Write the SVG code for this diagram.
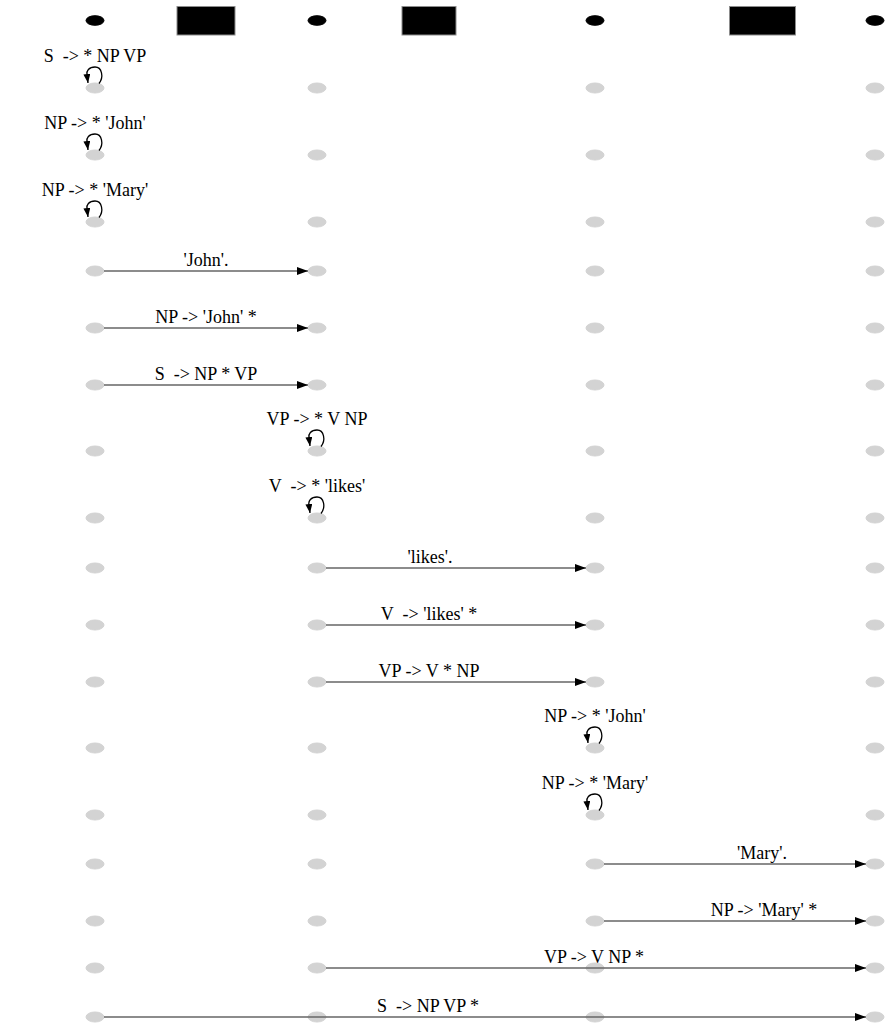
<svg xmlns="http://www.w3.org/2000/svg" width="894" height="1036" viewBox="0 0 894 1036">
<style>
text{font-family:"Liberation Serif","Times New Roman",serif;font-size:18px;fill:#000;text-anchor:middle;white-space:pre}
.g{fill:#d3d3d3;stroke:#d3d3d3}
.k{fill:#000;stroke:#000}
.box{fill:#000;stroke:#8c8c8c;stroke-width:1}
.e{fill:none;stroke:#666;stroke-width:1.5}
.l{fill:none;stroke:#000;stroke-width:1.3}
</style>
<defs>
<marker id="ah" markerUnits="userSpaceOnUse" markerWidth="13" markerHeight="10" refX="11" refY="4" orient="auto">
<path d="M0,0 L11,4 L0,8 z" fill="#000"/>
</marker>
<marker id="lh" markerUnits="userSpaceOnUse" markerWidth="11" markerHeight="9" refX="9" refY="3.5" orient="auto">
<path d="M0,0 L9,3.5 L0,7 z" fill="#000"/>
</marker>
<ellipse id="gn" class="g" rx="9" ry="5"/>
</defs>
<g id="header">
<ellipse class="k" cx="95" cy="20.5" rx="9" ry="4.8"/>
<ellipse class="k" cx="317" cy="20.5" rx="9" ry="4.8"/>
<ellipse class="k" cx="595" cy="20.5" rx="9" ry="4.8"/>
<ellipse class="k" cx="875" cy="20.5" rx="9" ry="4.8"/>
<rect class="box" x="177" y="6.5" width="58" height="28.5"/>
<rect class="box" x="402" y="6.5" width="54" height="28.5"/>
<rect class="box" x="729.5" y="6.5" width="66" height="28.5"/>
</g>
<g id="nodes">
<g id="r1"><use href="#gn" x="95" y="88"/><use href="#gn" x="317" y="88"/><use href="#gn" x="595" y="88"/><use href="#gn" x="875" y="88"/></g>
<g id="r2"><use href="#gn" x="95" y="155"/><use href="#gn" x="317" y="155"/><use href="#gn" x="595" y="155"/><use href="#gn" x="875" y="155"/></g>
<g id="r3"><use href="#gn" x="95" y="222"/><use href="#gn" x="317" y="222"/><use href="#gn" x="595" y="222"/><use href="#gn" x="875" y="222"/></g>
<g id="r4"><use href="#gn" x="95" y="271"/><use href="#gn" x="317" y="271"/><use href="#gn" x="595" y="271"/><use href="#gn" x="875" y="271"/></g>
<g id="r5"><use href="#gn" x="95" y="328"/><use href="#gn" x="317" y="328"/><use href="#gn" x="595" y="328"/><use href="#gn" x="875" y="328"/></g>
<g id="r6"><use href="#gn" x="95" y="385"/><use href="#gn" x="317" y="385"/><use href="#gn" x="595" y="385"/><use href="#gn" x="875" y="385"/></g>
<g id="r7"><use href="#gn" x="95" y="451"/><use href="#gn" x="317" y="451"/><use href="#gn" x="595" y="451"/><use href="#gn" x="875" y="451"/></g>
<g id="r8"><use href="#gn" x="95" y="518"/><use href="#gn" x="317" y="518"/><use href="#gn" x="595" y="518"/><use href="#gn" x="875" y="518"/></g>
<g id="r9"><use href="#gn" x="95" y="568"/><use href="#gn" x="317" y="568"/><use href="#gn" x="595" y="568"/><use href="#gn" x="875" y="568"/></g>
<g id="r10"><use href="#gn" x="95" y="625"/><use href="#gn" x="317" y="625"/><use href="#gn" x="595" y="625"/><use href="#gn" x="875" y="625"/></g>
<g id="r11"><use href="#gn" x="95" y="682"/><use href="#gn" x="317" y="682"/><use href="#gn" x="595" y="682"/><use href="#gn" x="875" y="682"/></g>
<g id="r12"><use href="#gn" x="95" y="748"/><use href="#gn" x="317" y="748"/><use href="#gn" x="595" y="748"/><use href="#gn" x="875" y="748"/></g>
<g id="r13"><use href="#gn" x="95" y="815"/><use href="#gn" x="317" y="815"/><use href="#gn" x="595" y="815"/><use href="#gn" x="875" y="815"/></g>
<g id="r14"><use href="#gn" x="95" y="864"/><use href="#gn" x="317" y="864"/><use href="#gn" x="595" y="864"/><use href="#gn" x="875" y="864"/></g>
<g id="r15"><use href="#gn" x="95" y="921"/><use href="#gn" x="317" y="921"/><use href="#gn" x="595" y="921"/><use href="#gn" x="875" y="921"/></g>
<g id="r16"><use href="#gn" x="95" y="968"/><use href="#gn" x="317" y="968"/><use href="#gn" x="595" y="968"/><use href="#gn" x="875" y="968"/></g>
<g id="r17"><use href="#gn" x="95" y="1017"/><use href="#gn" x="317" y="1017"/><use href="#gn" x="595" y="1017"/><use href="#gn" x="875" y="1017"/></g>
</g>
<g id="connectors">
<path class="l" marker-end="url(#lh)" d="M99,83.5 C104,77 102,67 95,67 C89,67 86,71 87,75 L88,83"/>
<path class="l" marker-end="url(#lh)" d="M99,150.5 C104,144 102,134 95,134 C89,134 86,138 87,142 L88,150"/>
<path class="l" marker-end="url(#lh)" d="M99,217.5 C104,211 102,201 95,201 C89,201 86,205 87,209 L88,217"/>
<path class="l" marker-end="url(#lh)" d="M321,446.5 C326,440 324,430 317,430 C311,430 308,434 309,438 L310,446"/>
<path class="l" marker-end="url(#lh)" d="M321,513.5 C326,507 324,497 317,497 C311,497 308,501 309,505 L310,513"/>
<path class="l" marker-end="url(#lh)" d="M599,743.5 C604,737 602,727 595,727 C589,727 586,731 587,735 L588,743"/>
<path class="l" marker-end="url(#lh)" d="M599,810.5 C604,804 602,794 595,794 C589,794 586,798 587,802 L588,810"/>
<line class="e" marker-end="url(#ah)" x1="104" y1="271" x2="308" y2="271"/>
<line class="e" marker-end="url(#ah)" x1="104" y1="328" x2="308" y2="328"/>
<line class="e" marker-end="url(#ah)" x1="104" y1="385" x2="308" y2="385"/>
<line class="e" marker-end="url(#ah)" x1="326" y1="568" x2="586" y2="568"/>
<line class="e" marker-end="url(#ah)" x1="326" y1="625" x2="586" y2="625"/>
<line class="e" marker-end="url(#ah)" x1="326" y1="682" x2="586" y2="682"/>
<line class="e" marker-end="url(#ah)" x1="604" y1="864" x2="866" y2="864"/>
<line class="e" marker-end="url(#ah)" x1="604" y1="921" x2="866" y2="921"/>
<line class="e" marker-end="url(#ah)" x1="326" y1="968" x2="866" y2="968"/>
<line class="e" marker-end="url(#ah)" x1="104" y1="1017" x2="866" y2="1017"/>
</g>
<g id="labels">
<text x="95" y="62">S  -&gt; * NP VP</text>
<text x="95" y="129">NP -&gt; * 'John'</text>
<text x="95" y="196">NP -&gt; * 'Mary'</text>
<text x="317" y="425">VP -&gt; * V NP</text>
<text x="317" y="492">V  -&gt; * 'likes'</text>
<text x="595" y="722">NP -&gt; * 'John'</text>
<text x="595" y="789">NP -&gt; * 'Mary'</text>
<text x="206" y="266">'John'.</text>
<text x="206" y="323">NP -&gt; 'John' *</text>
<text x="206" y="380">S  -&gt; NP * VP</text>
<text x="430" y="563">'likes'.</text>
<text x="429" y="620">V  -&gt; 'likes' *</text>
<text x="429" y="677">VP -&gt; V * NP</text>
<text x="762" y="859">'Mary'.</text>
<text x="764" y="916">NP -&gt; 'Mary' *</text>
<text x="594" y="963">VP -&gt; V NP *</text>
<text x="428" y="1012">S  -&gt; NP VP *</text>
</g>
</svg>
